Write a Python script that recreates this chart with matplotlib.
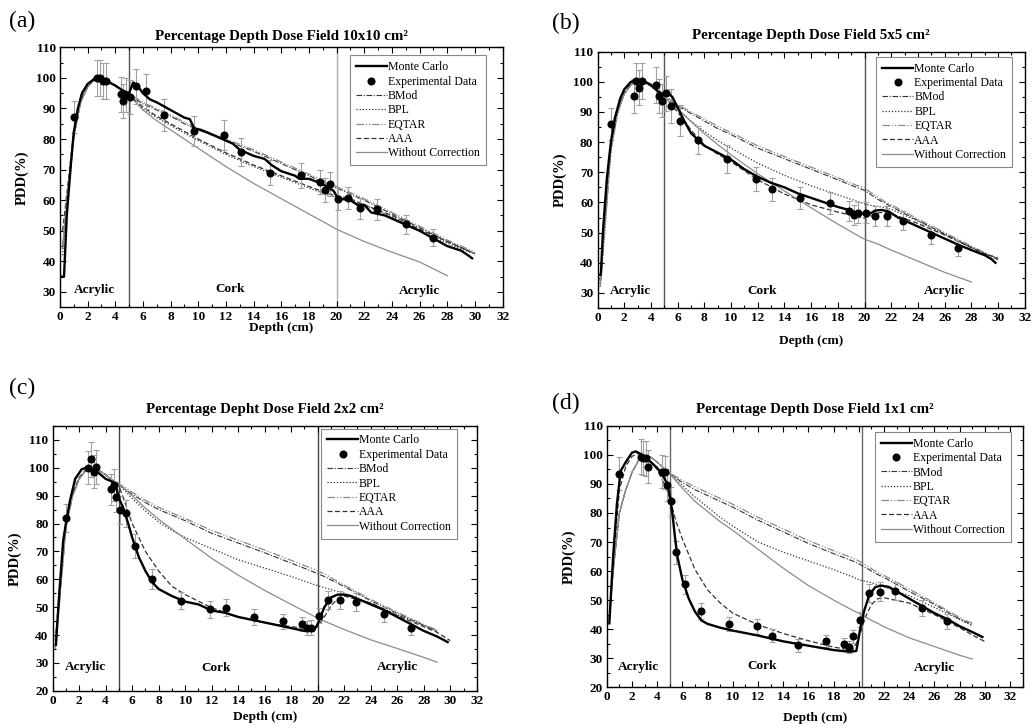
import numpy as np
import matplotlib
matplotlib.use("Agg")
import matplotlib.pyplot as plt
from matplotlib.ticker import MultipleLocator

plt.rcParams['font.family'] = ['Liberation Serif', 'DejaVu Serif']

nan = np.nan

# depth grid shared by the model curves (cm)
grid = [0.2, 0.5, 1, 1.5, 2, 2.5, 3, 3.5, 4, 4.5, 5, 5.5, 6, 7, 8, 9, 10, 12, 14, 16,
        18, 19.5, 20, 20.5, 21, 21.5, 22, 24, 26, 28, 29, 30]
# depths of the measured points (cm)
exp_depth = [1.0, 2.7, 2.9, 3.1, 3.3, 4.4, 4.6, 4.8, 5.1, 5.5, 6.2, 7.5, 9.7, 11.9, 13.1,
             15.2, 17.4, 18.8, 19.2, 19.5, 20.1, 20.8, 21.7, 22.9, 25.0, 27.0]

# ---- (a) 10x10 ----
a_mc_x = [0, 0.3, 0.5, 0.8, 1.0, 1.3, 1.6, 2.0, 2.5, 3.0, 3.5, 4.0, 4.5, 5.0, 5.3, 5.6, 6.0,
          6.5, 7.0, 8.0, 9.0, 9.4, 9.7, 10.2, 11.0, 12.0, 12.5, 13.0, 14.0, 14.8, 15.3, 16.0,
          17.0, 17.3, 18.0, 18.6, 19.3, 19.8, 20.1, 20.5, 21.0, 21.5, 22.0, 22.5, 23.0, 23.5,
          24.0, 25.0, 26.0, 27.0, 28.0, 29.0, 29.5, 29.8]
a_mc_y = [35, 35, 55, 72, 82, 90, 95, 98, 99.7, 99.5, 98.7, 97.5, 96, 95, 98.5, 97.5, 95,
          93, 92, 89.5, 87, 86.5, 83.5, 83, 81.5, 79.5, 78.5, 76.5, 74.5, 73.5, 71.5, 69.5,
          68, 67, 67, 66, 64.5, 63, 60.5, 60.3, 60, 58.5, 58.5, 56, 55.5, 55,
          54, 52, 50, 47.5, 45, 43.5, 42, 41]
a_exp_y = [87.1, 100, 100, 99, 99, 94.6, 92.4, 94.4, 93.8, 97.2, 95.6, 87.9, 82.7, 81.4, 75.9,
           69, 68.2, 66, 63.3, 65.3, 60.5, 60.7, 57.4, 57, 52.2, 47.8]
a_exp_err = [5.2, 6.0, 6.0, 5.9, 5.9, 5.7, 5.5, 5.7, 5.6, 5.8, 5.7, 5.3, 5.0, 4.9, 4.6,
             4.1, 4.1, 4.0, 3.8, 3.9, 3.6, 3.6, 3.4, 3.4, 3.1, 2.9]
a_bmod = [45, 60, 81, 92, 97, 99.5, 99.8, 98.8, 97.5, 96, 94.5, 93, 91.5, 89.5, 87.5, 85, 83,
          79.5, 76, 72, 68, 65, 64, 63, 62, 61, 60, 55.5, 51, 46.5, 44.5, 42.5]
a_eqtar = [44, 58, 80, 92, 97, 99.5, 99.8, 98.8, 97.5, 96, 94.8, 93.5, 92, 90, 88, 85.5, 83.5,
           80, 76.5, 72.5, 68.5, 65.5, 64.5, 63.5, 62.5, 61.5, 60.5, 56, 51.5, 47, 45, 43]
a_bpl = [42, 57, 80, 92, 97, 99.5, 99.8, 98.8, 97.5, 96, 94, 92, 90, 87, 84.5, 82, 79.5,
         75, 71, 67.5, 64, 61.5, 61, 60.5, 60, 59, 58.5, 54.5, 50, 46, 44, 42.5]
a_aaa = [50, 62, 82, 92.5, 97, 99.5, 99.8, 98.8, 97.5, 96, 94, 92.5, 90.5, 87.5, 85, 82.5, 80,
         75.5, 71.5, 68, 64.5, 62, 61.5, 61, 60.5, 59.5, 58.5, 55, 50.5, 46.5, 44.5, 42.5]
a_wc = [45, 60, 81, 92, 97, 99.5, 99.8, 98.8, 97.5, 96, 94, 92, 89.5, 86, 83, 80, 77,
        71, 65.5, 60.5, 55.5, 51.8, 50.5, 49.5, 48.5, 47.5, 46.5, 43, 39.8, 35.3, nan, nan]

# ---- (b) 5x5 ----
b_mc_x = [0.1, 0.25, 0.4, 0.7, 1.0, 1.3, 1.7, 2.0, 2.5, 3.0, 3.5, 4.0, 4.5, 5.0, 5.3, 5.6,
          6.0, 6.5, 7.0, 8.0, 9.0, 10.0, 11.0, 12.0, 13.0, 14.0, 15.0, 16.0, 17.0, 18.0,
          19.0, 19.5, 20.0, 20.3, 20.8, 21.3, 21.8, 22.5, 23.0, 24.0, 25.0, 26.0, 27.0, 28.0,
          29.0, 29.5, 29.8]
b_mc_y = [36, 36, 50, 68, 80, 88, 94.5, 97.5, 100, 100.8, 100.2, 99, 97, 95.5, 96.2, 95,
          91.5, 87, 83, 78.8, 76.5, 74.2, 71, 68.5, 66.5, 65, 63, 61.5, 60, 58.5,
          57.3, 56.5, 56.2, 56, 57.3, 57.5, 57, 55, 54, 52, 50, 48, 46, 44.2,
          42.5, 41.2, 40]
b_exp_y = [86, 95.3, 100.2, 98.1, 100.2, 98.9, 95.4, 93.8, 96.2, 92, 87.1, 80.7, 74.4, 67.8,
           64.3, 61.5, 59.9, 57.1, 55.8, 56.6, 56.6, 55.5, 55.5, 53.9, 49.2, 44.9]
b_exp_err = [5.2, 5.7, 6.0, 5.9, 6.0, 5.9, 5.7, 5.6, 5.8, 5.5, 5.2, 4.8, 4.5, 4.1, 3.9,
             3.7, 3.6, 3.4, 3.3, 3.4, 3.4, 3.3, 3.3, 3.2, 3.0, 2.7]
b_bmod = [33, 50, 78, 90, 96, 99, 100.3, 100, 98.5, 96.8, 95, 93.5, 92, 89.5, 87, 84.5, 82.5,
          78, 74.5, 71, 67.5, 64.8, 64, 62.5, 61, 59.8, 58.6, 54, 49.5, 45, 43, 41]
b_eqtar = [32, 48, 77, 89.5, 96, 99, 100.3, 100, 98.5, 96.8, 95.2, 94, 92.5, 90, 87.7, 85.2,
           83.2, 78.8, 75.2, 71.7, 68.2, 65.5, 64.8, 63.2, 61.7, 60.3, 59.2, 54.5, 50, 45.5,
           43.4, 41.3]
b_bpl = [32, 48, 77, 89.5, 96, 99, 100.3, 100, 98.5, 96.8, 95, 93, 91, 87, 83.5, 80.5, 78,
         73, 69, 65.5, 62.5, 60.3, 59.5, 59, 58.7, 58.3, 57.7, 53.8, 49.5, 45.2, 43.2, 41.3]
b_aaa = [34, 52, 79, 90.5, 96.5, 99.3, 100.4, 100, 98.5, 96.8, 95, 92.5, 90, 84, 79, 76,
         73.5, 67.5, 62.8, 59.2, 56.8, 55.2, 54.8, 55.5, 56.5, 56.8, 56.3, 53, 49.2, 45, 43,
         41.5]
b_wc = [33, 50, 78, 90, 96, 99, 100.3, 100, 98.5, 96.8, 95, 93, 91, 86.8, 82.8, 79.2, 75.8,
        69.5, 63.8, 58.2, 52.8, 49, 47.8, 47, 46.2, 45.2, 44.2, 40.5, 36.8, 33.6, nan, nan]

# ---- (c) 2x2 ----
c_mc_x = [0.25, 0.5, 0.8, 1.0, 1.3, 1.7, 2.2, 2.6, 3.0, 3.5, 4.0, 4.5, 4.8, 5.0, 5.3, 5.7,
          6.0, 6.5, 7.0, 7.5, 8.0, 9.0, 10.0, 11.0, 12.0, 13.0, 14.0, 15.0, 16.0, 17.0, 18.0,
          19.0, 19.7, 20.0, 20.5, 21.0, 21.5, 22.0, 22.5, 23.0, 24.0, 25.0, 26.0, 27.0, 28.0,
          29.0, 29.8]
c_mc_y = [36.5, 55, 74, 80, 88, 96, 99.5, 100, 99.5, 98, 96, 95, 93, 89, 86, 80,
          75, 68, 63, 59, 56.5, 54, 52, 51, 48.8, 48, 46.5, 45.5, 44.5, 43.5, 42.5,
          41.5, 41.5, 44, 50, 53.5, 54.5, 54.5, 54, 53, 51, 49, 46.5, 44, 41.5,
          39.5, 37.5]
c_exp_y = [82, 100, 103, 98.5, 100.2, 92.3, 93.8, 89.6, 84.8, 83.6, 71.8, 60, 52.3, 49.3,
           49.8, 46.4, 44.9, 44, 42.5, 42.7, 47, 52.7, 52.6, 51.9, 47.4, 42.5]
c_exp_err = [4.9, 6.0, 6.2, 5.9, 6.0, 5.5, 5.6, 5.4, 5.1, 5.0, 4.3, 3.6, 3.1, 3.0, 3.0,
             2.8, 2.7, 2.6, 2.6, 2.6, 2.8, 3.2, 3.2, 3.1, 2.8, 2.6]
c_bmod = [36, 52, 79, 90, 96, 99, 99.8, 99, 97.5, 95.5, 94, 92.2, 90.5, 87.5, 85, 83, 81,
          76.5, 73, 69.5, 65.8, 63, 62, 61, 59.8, 58.6, 57.4, 52.3, 47.8, 43.5, 41.5, nan]
c_eqtar = [35, 50, 78, 89.5, 96, 99, 99.8, 99, 97.5, 95.5, 94.2, 92.8, 91.2, 88.3, 85.8, 83.8,
           81.8, 77.5, 74, 70.5, 66.8, 64, 63, 62, 60.6, 59.2, 57.9, 52.8, 48.2, 43.8, 41.8,
           nan]
c_bpl = [36, 52, 79, 90, 96, 99, 99.8, 99, 97.5, 95.5, 94, 91.5, 89, 84.5, 80.5, 77.5, 75,
         71, 67, 64, 61, 58.5, 57.7, 57, 56.3, 55.6, 55, 51.5, 47.3, 43.5, 41.5, nan]
c_aaa = [38, 55, 80, 91, 96.5, 99.3, 99.8, 99, 97.5, 95.5, 93.5, 87, 80, 70, 63, 57.5, 54.5,
         49.8, 46.5, 44.5, 43, 42.3, 43, 46.5, 50.5, 53, 54, 51.5, 47, 43, 41, 38]
c_wc = [36, 52, 79, 90, 96, 99, 99.8, 99, 97.5, 95.5, 94, 92, 90, 85.5, 81.5, 78, 74.5,
        67.5, 61.5, 56, 51, 47.3, 46, 45, 44, 43, 42, 38.3, 35.2, 32, 30.3, nan]

# ---- (d) 1x1 ----
d_mc_x = [0.2, 0.5, 0.8, 1.1, 1.5, 2.0, 2.3, 2.7, 3.0, 3.5, 4.0, 4.5, 4.8, 5.0, 5.2, 5.4,
          5.6, 6.0, 6.5, 7.0, 7.5, 8.0, 9.0, 10.0, 12.0, 14.0, 16.0, 18.0, 19.3, 19.8, 20.1,
          20.4, 20.8, 21.3, 21.8, 22.4, 23.0, 24.0, 25.0, 26.0, 27.0, 28.0, 29.0, 29.8]
d_mc_y = [42, 65, 83, 94.5, 97.5, 100.8, 101.2, 100.3, 99.3, 97.5, 95.5, 92.5, 90, 86, 80, 72,
          65, 57, 50.5, 46, 43, 41.8, 40.5, 39.5, 37.8, 35.8, 34.3, 32.8, 32.2, 32.5, 40,
          46, 51.5, 54.5, 55, 54.5, 53, 50.5, 48, 45.5, 43.5, 41, 39, 37.3]
d_exp_y = [93.6, 99.4, 99, 98.8, 96, 94.2, 94, 89.6, 84, 66.4, 55.4, 46.2, 41.8, 41, 37.8,
           34.4, 35.8, 35, 33.9, 37.5, 43.3, 52.4, 52.9, 53.2, 47.2, 42.7]
d_exp_err = [5.6, 6.0, 5.9, 5.9, 5.8, 5.7, 5.6, 5.4, 5.0, 4.0, 3.3, 2.8, 2.5, 2.5, 2.3,
             2.1, 2.1, 2.1, 2.0, 2.3, 2.6, 3.1, 3.2, 3.2, 2.8, 2.6]
d_bmod = [44, 60, 80, 88, 94, 98, 99.8, 99.2, 97.5, 95.5, 93.5, 92, 90.5, 88, 86, 84, 82,
          77.5, 73.5, 69.5, 66, 63.5, 62.5, 61.3, 60, 58.8, 57.8, 53, 48.5, 43.5, 41.5, nan]
d_eqtar = [44, 60, 80, 88, 94, 98, 99.8, 99.2, 97.5, 95.5, 93.8, 92.5, 91.2, 89, 87, 85, 83,
           78.5, 74.5, 70.5, 67, 64.5, 63.5, 62.2, 60.8, 59.5, 58.5, 53.8, 49, 44, 42, nan]
d_bpl = [44, 60, 80, 88, 94, 98, 99.8, 99.2, 97.5, 95.5, 93.5, 91.5, 89.5, 85.5, 82, 78.5,
         75.5, 70, 66.5, 63.5, 60.5, 58, 57, 56.5, 56, 55.3, 54.6, 51.5, 47.5, 43.3, 41.2, nan]
d_aaa = [43, 63, 88, 96, 99.5, 100.5, 99.5, 97.5, 95, 90.5, 85, 77, 71, 60.5, 53.5, 49, 45.5,
         41.5, 38.5, 36, 33.8, 32.8, 37, 44, 48.5, 50.5, 50.8, 49, 45, 40.5, 38, 35.7]
d_wc = [44, 60, 80, 88, 94, 98, 99.8, 99.2, 97.5, 95.5, 93.5, 91, 88.5, 84, 80.5, 77, 74,
        67.5, 61, 55, 50, 46.5, 45.5, 44.3, 43, 42, 40.8, 37, 34, 31, 29.7, nan]

titles = ["Percentage Depth Dose Field 10x10 cm²", "Percentage Depth Dose Field 5x5 cm²",
          "Percentage Depht Dose Field 2x2 cm²", "Percentage Depth Dose Field 1x1 cm²"]
tags = ["(a)", "(b)", "(c)", "(d)"]

panels = [
    dict(mc=(a_mc_x, a_mc_y), exp=(a_exp_y, a_exp_err),
         models=(a_bmod, a_bpl, a_eqtar, a_aaa, a_wc),
         rect=[0.058, 0.578, 0.429, 0.357], ylim=(25, 110), xlim=(0, 32), ymin_tick=30,
         walls=(5, 20), wall_col=('#555555', '#b0b0b0'), text_y=(30.5, 31, 30.3),
         leg=(0.962, 0.969), xpad=-1, tpad=5, tagpos=(0.021, 0.971)),
    dict(mc=(b_mc_x, b_mc_y), exp=(b_exp_y, b_exp_err),
         models=(b_bmod, b_bpl, b_eqtar, b_aaa, b_wc),
         rect=[0.579, 0.577, 0.414, 0.352], ylim=(25, 110), xlim=(0, 32), ymin_tick=30,
         walls=(5, 20), wall_col=('#555555', '#555555'), text_y=(30.5, 30.5, 30.5),
         leg=(0.970, 0.980), xpad=8, tpad=9, tagpos=(0.548, 0.968)),
    dict(mc=(c_mc_x, c_mc_y), exp=(c_exp_y, c_exp_err),
         models=(c_bmod, c_bpl, c_eqtar, c_aaa, c_wc),
         rect=[0.051, 0.051, 0.411, 0.364], ylim=(20, 115), xlim=(0, 32), ymin_tick=20,
         walls=(5, 20), wall_col=('#444444', '#444444'), text_y=(28.5, 28.2, 28.5),
         leg=(0.953, 0.990), xpad=3, tpad=9, tagpos=(0.021, 0.466)),
    dict(mc=(d_mc_x, d_mc_y), exp=(d_exp_y, d_exp_err),
         models=(d_bmod, d_bpl, d_eqtar, d_aaa, d_wc),
         rect=[0.588, 0.056, 0.403, 0.359], ylim=(20, 110), xlim=(0, 33), ymin_tick=20,
         walls=(5.05, 20.25), wall_col=('#666666', '#666666'), text_y=(26.8, 27.3, 26.6),
         leg=(0.971, 0.977), xpad=6, tpad=9, tagpos=(0.548, 0.446)),
]

model_names = ["BMod", "BPL", "EQTAR", "AAA", "Without Correction"]
model_styles = [dict(color='#333333', ls=(0, (5, 1.5, 1, 1.5)), lw=0.8),
                dict(color='#333333', ls=(0, (1, 1.5)), lw=0.9),
                dict(color='#8a8a8a', ls=(0, (6, 1.5, 1, 1.5, 1, 1.5)), lw=0.9),
                dict(color='#333333', ls=(0, (4, 2)), lw=0.9),
                dict(color='#8c8c8c', ls='-', lw=0.9)]

fig = plt.figure(figsize=(10.32, 7.28), dpi=100)

for p, title, tag in zip(panels, titles, tags):
    ax = fig.add_axes(p['rect'])
    for w, col in zip(p['walls'], p['wall_col']):
        ax.axvline(w, color=col, lw=1.0, zorder=1)
    h_mc, = ax.plot(p['mc'][0], p['mc'][1], color='black', lw=1.7, zorder=4,
                    label='Monte Carlo')
    ax.errorbar(exp_depth, p['exp'][0], yerr=p['exp'][1], fmt='none', ecolor='#a0a0a0',
                elinewidth=0.8, capsize=2.5, capthick=0.8, zorder=3)
    h_exp, = ax.plot(exp_depth, p['exp'][0], 'o', color='black', ms=4.8, zorder=5,
                     label='Experimental Data')
    handles = [h_mc, h_exp]
    for vals, name, st in zip(p['models'], model_names, model_styles):
        h, = ax.plot(grid, vals, label=name, zorder=2, **st)
        handles.append(h)

    ax.set_xlim(*p['xlim'])
    ax.set_ylim(*p['ylim'])
    ax.xaxis.set_major_locator(MultipleLocator(2))
    ax.xaxis.set_minor_locator(MultipleLocator(1))
    ax.set_yticks(np.arange(p['ymin_tick'], 111, 10))
    ax.yaxis.set_minor_locator(MultipleLocator(5))
    ax.tick_params(which='both', direction='in', top=True, right=True, width=0.8)
    ax.tick_params(which='major', length=4, labelsize=9.5, pad=3)
    ax.tick_params(which='minor', length=2)
    for lab in ax.get_xticklabels() + ax.get_yticklabels():
        lab.set_fontweight('bold')
    for s in ax.spines.values():
        s.set_linewidth(1.0)

    ax.set_xlabel('Depth (cm)', fontsize=9.5, fontweight='bold', labelpad=p['xpad'])
    ax.set_ylabel('PDD(%)', fontsize=10.5, fontweight='bold', labelpad=5)
    ax.set_title(title, fontsize=10.8, fontweight='bold', pad=p['tpad'])

    ty = p['text_y']
    ax.text(2.5, ty[0], 'Acrylic', ha='center', va='center', fontsize=9.5, fontweight='bold')
    ax.text(12.3, ty[1], 'Cork', ha='center', va='center', fontsize=9.5, fontweight='bold')
    ax.text(26.0, ty[2], 'Acrylic', ha='center', va='center', fontsize=9.5, fontweight='bold')

    leg = ax.legend(handles=handles, loc='upper right', bbox_to_anchor=p['leg'],
                    fontsize=8.5, frameon=True, fancybox=False, framealpha=1,
                    edgecolor='#888888', handlelength=2.6, handletextpad=0.1,
                    labelspacing=0.2, borderpad=0.5, borderaxespad=0)
    leg.get_frame().set_linewidth(0.8)

    fig.text(p['tagpos'][0], p['tagpos'][1], tag, fontsize=17, ha='center', va='center')

fig.savefig('out.png', dpi=100)
